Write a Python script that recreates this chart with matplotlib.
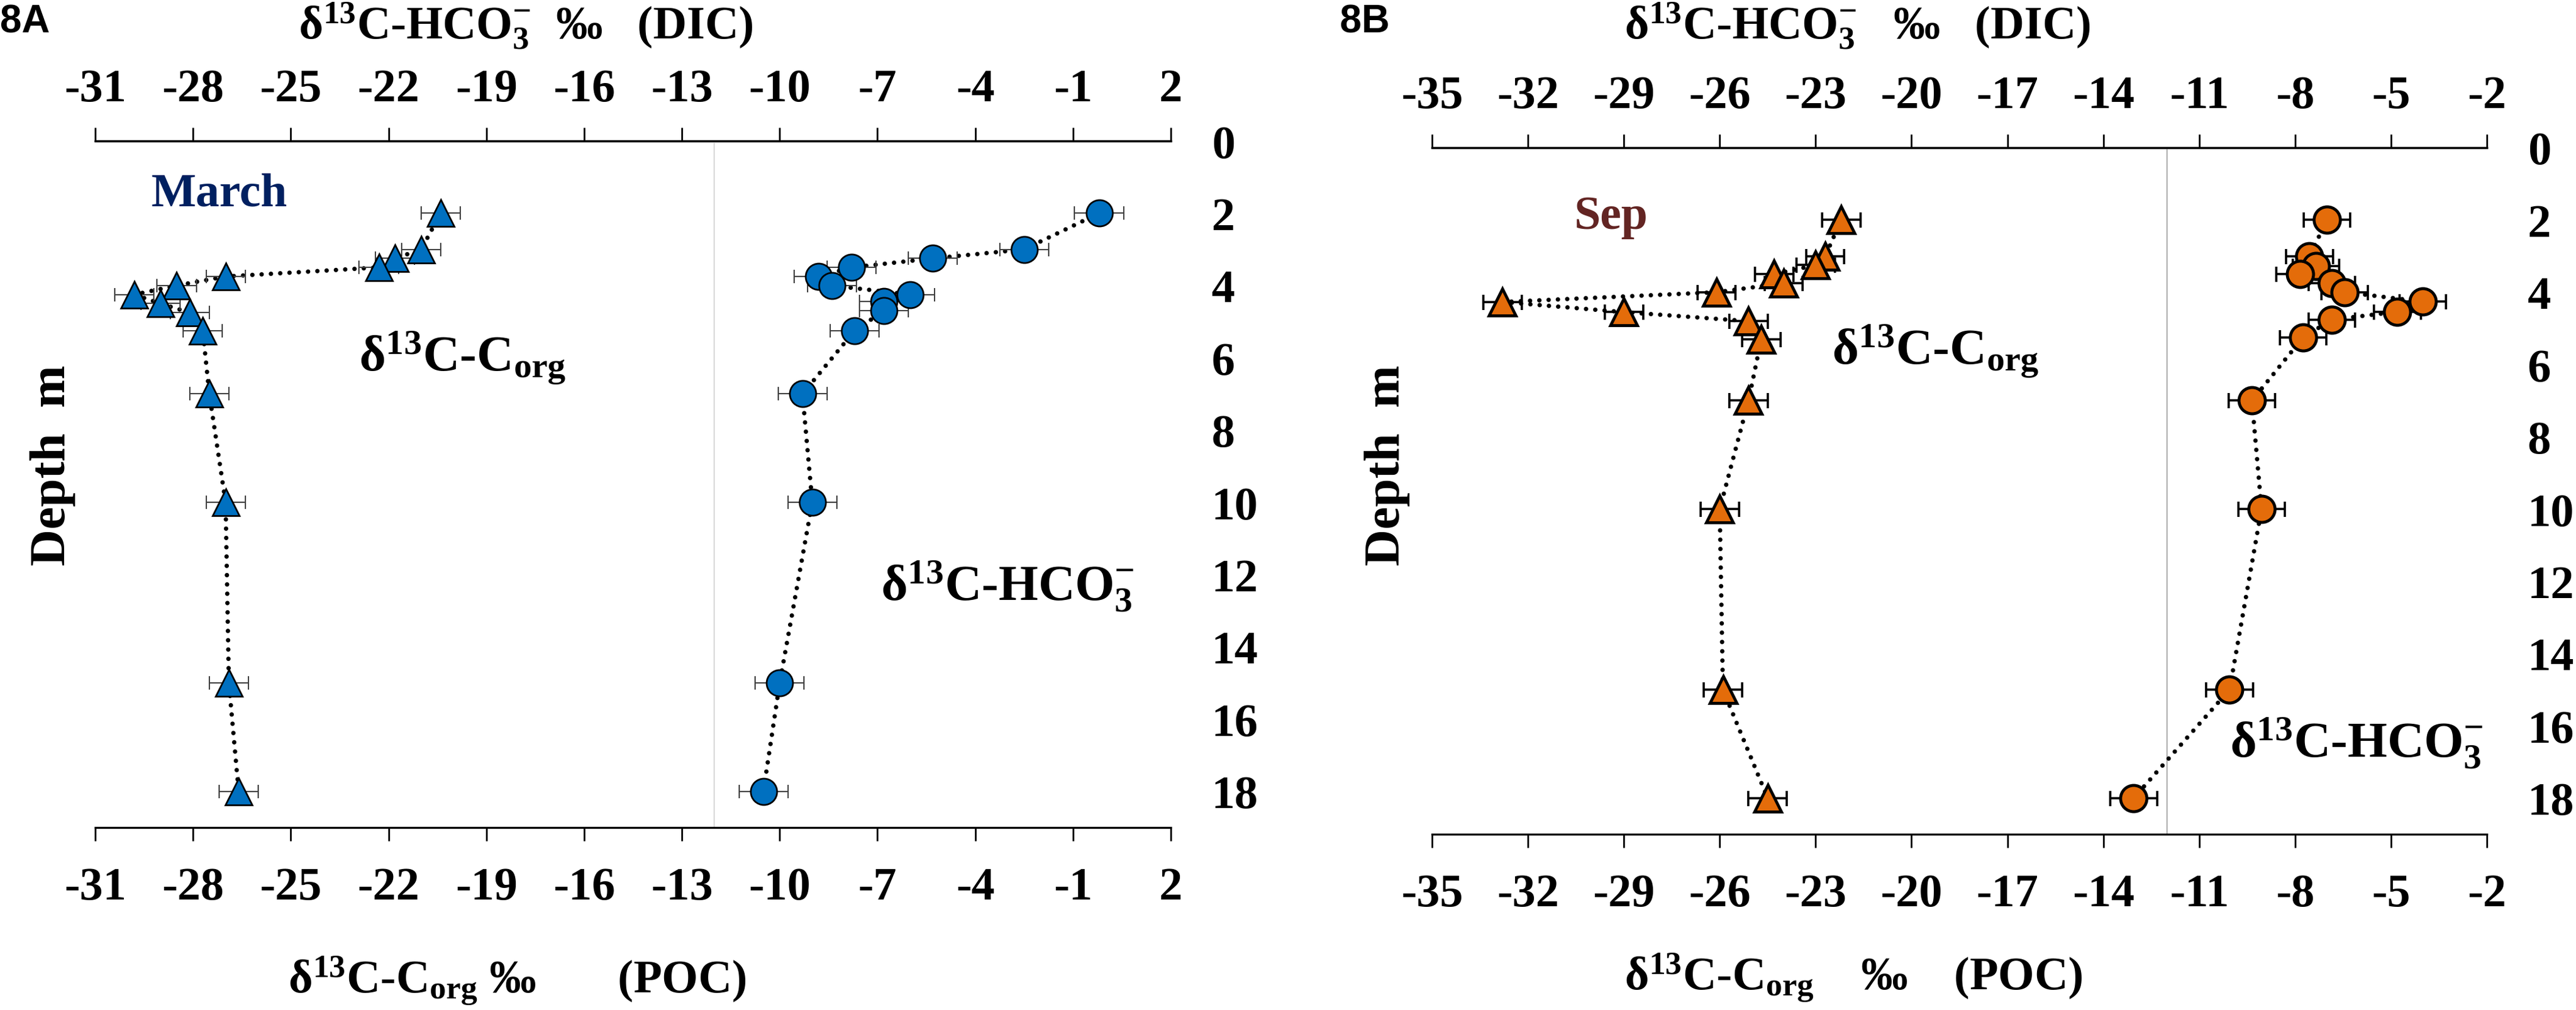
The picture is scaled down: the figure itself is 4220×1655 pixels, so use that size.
import matplotlib
matplotlib.use("Agg")
import matplotlib.pyplot as plt

plt.rcParams['font.family'] = ['Liberation Serif', 'DejaVu Serif']
plt.rcParams['font.weight'] = 'bold'
plt.rcParams['axes.unicode_minus'] = False
plt.rcParams['mathtext.fontset'] = 'custom'
plt.rcParams['mathtext.rm'] = 'Liberation Serif:bold'
plt.rcParams['mathtext.it'] = 'Liberation Serif:bold'
plt.rcParams['mathtext.bf'] = 'Liberation Serif:bold'
plt.rcParams['mathtext.default'] = 'rm'

# ---- data ----
# March (8A)
mar_corg_depth = [2, 3, 3.25, 3.5, 3.75, 4, 4.25, 4.5, 4.75, 5.25, 7, 10, 15, 18]
mar_corg = [-20.4, -21.0, -21.8, -22.3, -27.0, -28.5, -29.8, -29.0, -28.1, -27.7, -27.5, -27.0, -26.9, -26.6]
mar_dic_depth = [2, 3, 3.25, 3.5, 3.75, 4, 4.25, 4.45, 4.7, 5.25, 7, 10, 15, 18]
mar_dic = [-0.2, -2.5, -5.3, -7.8, -8.8, -8.4, -6.0, -6.8, -6.8, -7.7, -9.3, -9.0, -10.0, -10.5]
mar_corg_err = 0.6
mar_dic_err = 0.75

# September (8B)
sep_corg_depth = [2, 3, 3.25, 3.5, 3.75, 4, 4.27, 4.55, 4.8, 5.3, 7, 10, 15, 18]
sep_corg = [-22.2, -22.7, -23.0, -24.3, -24.0, -26.1, -32.8, -29.0, -25.1, -24.7, -25.1, -26.0, -25.9, -24.5]
sep_dic_depth = [2, 3, 3.28, 3.5, 3.75, 4, 4.26, 4.54, 4.76, 5.25, 7, 10, 15, 18]
sep_dic = [-7.0, -7.55, -7.35, -7.85, -6.85, -6.45, -4.0, -4.8, -6.85, -7.75, -9.35, -9.05, -10.05, -13.05]
sep_corg_err = 0.6
sep_dic_err = 0.73

depth_ticks = list(range(0, 19, 2))
mar_xticks = list(range(-31, 3, 3))
sep_xticks = list(range(-35, -1, 3))

W, H = 4220, 1656
fig = plt.figure(figsize=(W / 100, H / 100), dpi=100)

dots = (0, (0.01, 2.1))


def px(x, y):
    return x / W, 1 - y / H


def setup(ax, xlim, xticks, vcolor, vlw):
    ax.set_xlim(xlim)
    ax.set_ylim(19, 0)
    ax.set_xticks(xticks)
    ax.set_yticks(depth_ticks)
    ax.spines[['left', 'right']].set_visible(False)
    ax.spines[['top', 'bottom']].set_linewidth(2.4)
    ax.tick_params(axis='x', direction='out', length=16, width=2, pad=30, labelsize=55)
    ax.yaxis.tick_right()
    ax.tick_params(axis='y', length=0, pad=48, labelsize=55)
    top = ax.secondary_xaxis('top')
    top.set_xticks(xticks)
    top.tick_params(direction='out', length=16, width=2, pad=20, labelsize=55)
    top.spines['top'].set_linewidth(2.4)
    ax.axvline(-12, color=vcolor, lw=vlw, zorder=1)


def series(ax, x, y, err, marker, color, mew, ecolor, elw, cap):
    ax.plot(x, y, ls=dots, color='black', lw=5.2, dash_capstyle='round', zorder=2)
    ax.errorbar(x, y, xerr=err, fmt='none', ecolor=ecolor, elinewidth=elw,
                capsize=cap, capthick=elw, zorder=3)
    ax.plot(x, y, ls='none', marker=marker, ms=31, mfc=color, mec='black', mew=mew, zorder=4)


# ---- panel A ----
axA = fig.add_axes([156 / W, 1 - 1357 / H, (1918 - 156) / W, (1357 - 232) / H])
setup(axA, (-31, 2), mar_xticks, '#dadada', 1.6)
series(axA, mar_corg, mar_corg_depth, mar_corg_err, '^', '#0070C0', 2.0, '#404040', 1.5, 8)
series(axA, mar_dic, mar_dic_depth, mar_dic_err, 'o', '#0070C0', 2.0, '#404040', 1.5, 8)
axA.text(-27.2, 1.79, 'March', color='#002060', fontsize=56, ha='center', va='baseline')
axA.text(-22.9, 6.33, r'δ$^{13}$C-C$_{org}$', fontsize=60, ha='left', va='baseline')
axA.text(-6.9, 12.7, r'δ$^{13}$C-HCO$_{3}^{-}$', fontsize=60, ha='left', va='baseline')

# ---- panel B ----
axB = fig.add_axes([2346 / W, 1 - 1368 / H, (4074 - 2346) / W, (1368 - 243) / H])
setup(axB, (-35, -2), sep_xticks, '#a6a6a6', 1.3)
series(axB, sep_corg, sep_corg_depth, sep_corg_err, '^', '#E46C0A', 3.5, 'black', 2.6, 9)
series(axB, sep_dic, sep_dic_depth, sep_dic_err, 'o', '#E46C0A', 3.5, 'black', 2.6, 9)
axB.text(-29.4, 2.23, 'Sep', color='#632523', fontsize=56, ha='center', va='baseline')
axB.text(-22.5, 5.96, r'δ$^{13}$C-C$_{org}$', fontsize=60, ha='left', va='baseline')
axB.text(-10.04, 16.85, r'δ$^{13}$C-HCO$_{3}^{-}$', fontsize=60, ha='left', va='baseline')

# ---- titles, axis labels, panel letters ----
fig.text(*px(489, 63), r'δ$^{13}$C-HCO$_{3}^{-}$  ‰   (DIC)', fontsize=55, ha='left', va='baseline')
fig.text(*px(2661, 63), r'δ$^{13}$C-HCO$_{3}^{-}$   ‰   (DIC)', fontsize=55, ha='left', va='baseline')
fig.text(*px(472, 1627), r'δ$^{13}$C-C$_{org}$ ‰       (POC)', fontsize=55, ha='left', va='baseline')
fig.text(*px(2661, 1622), r'δ$^{13}$C-C$_{org}$    ‰    (POC)', fontsize=55, ha='left', va='baseline')
fig.text(*px(86, 763), 'Depth  m', fontsize=60, rotation=90, ha='center', va='center')
fig.text(*px(2272, 763), 'Depth  m', fontsize=60, rotation=90, ha='center', va='center')
fig.text(*px(0, 53), '8A', family='Liberation Sans', fontsize=46, ha='left', va='baseline')
fig.text(*px(2195, 53), '8B', family='Liberation Sans', fontsize=46, ha='left', va='baseline')

fig.savefig('out.png', dpi=100)
